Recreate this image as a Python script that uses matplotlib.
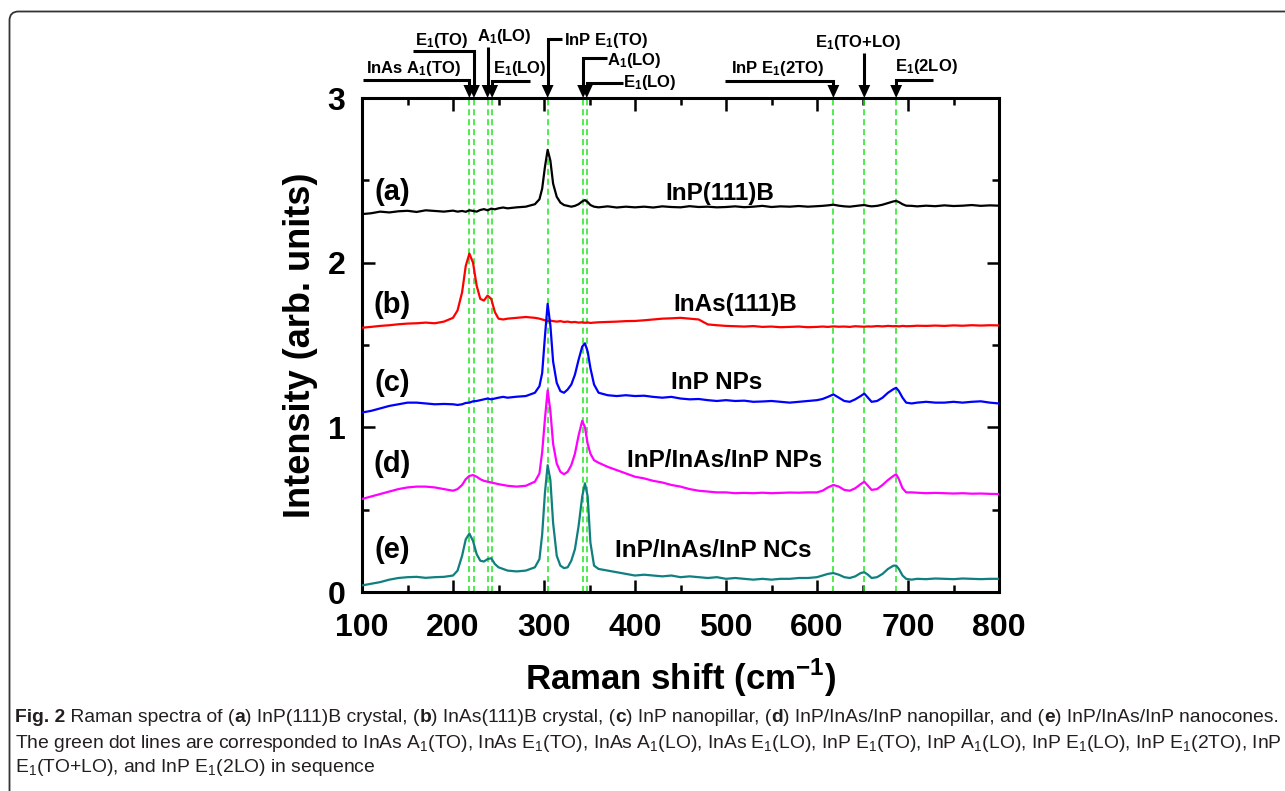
import matplotlib
matplotlib.use("Agg")
import matplotlib.pyplot as plt
import matplotlib.transforms as mtransforms
from matplotlib.patches import FancyBboxPatch, Polygon
from matplotlib.ticker import MultipleLocator

# Raman shift grid (cm-1) shared by all spectra
shift = [100, 110, 120, 130, 140, 150, 160, 170, 180, 190,
         200, 205, 210, 214, 218, 222, 226, 230, 234, 238,
         242, 246, 250, 255, 260, 270, 280, 290, 295, 298,
         301, 304, 307, 310, 314, 318, 322, 326, 330, 334,
         338, 342, 345, 348, 351, 355, 360, 370, 380, 390,
         400, 410, 420, 430, 440, 450, 460, 470, 480, 490,
         500, 510, 520, 530, 540, 550, 560, 570, 580, 590,
         600, 606, 612, 618, 624, 630, 636, 642, 648, 652,
         656, 660, 666, 672, 678, 684, 687, 690, 694, 698,
         704, 710, 720, 730, 740, 750, 760, 770, 780, 790,
         800]

inp_111b = [2.295, 2.300, 2.310, 2.305, 2.312, 2.315, 2.308, 2.318, 2.314, 2.310,
            2.316, 2.310, 2.314, 2.309, 2.318, 2.314, 2.310, 2.320, 2.325, 2.318,
            2.328, 2.324, 2.330, 2.335, 2.330, 2.336, 2.340, 2.355, 2.385, 2.450,
            2.580, 2.685, 2.620, 2.480, 2.400, 2.365, 2.350, 2.345, 2.340, 2.345,
            2.355, 2.372, 2.380, 2.368, 2.350, 2.340, 2.336, 2.342, 2.335, 2.340,
            2.336, 2.340, 2.335, 2.342, 2.338, 2.336, 2.343, 2.338, 2.340, 2.336,
            2.338, 2.342, 2.337, 2.340, 2.345, 2.338, 2.342, 2.340, 2.344, 2.340,
            2.343, 2.345, 2.348, 2.352, 2.346, 2.342, 2.340, 2.344, 2.348, 2.350,
            2.345, 2.342, 2.345, 2.352, 2.362, 2.372, 2.375, 2.368, 2.355, 2.346,
            2.345, 2.342, 2.346, 2.343, 2.348, 2.344, 2.346, 2.350, 2.345, 2.348,
            2.346]

inas_111b = [1.605, 1.610, 1.616, 1.620, 1.626, 1.630, 1.632, 1.636, 1.632, 1.642,
             1.665, 1.710, 1.820, 1.980, 2.055, 2.000, 1.860, 1.780, 1.770, 1.800,
             1.780, 1.700, 1.660, 1.655, 1.660, 1.665, 1.670, 1.665, 1.660, 1.655,
             1.650, 1.645, 1.648, 1.645, 1.642, 1.645, 1.640, 1.642, 1.638, 1.640,
             1.636, 1.638, 1.635, 1.637, 1.634, 1.636, 1.638, 1.640, 1.642, 1.645,
             1.646, 1.650, 1.655, 1.660, 1.662, 1.665, 1.660, 1.655, 1.625, 1.620,
             1.616, 1.614, 1.612, 1.615, 1.610, 1.612, 1.608, 1.610, 1.612, 1.608,
             1.610, 1.612, 1.610, 1.613, 1.611, 1.612, 1.610, 1.614, 1.612, 1.611,
             1.613, 1.612, 1.615, 1.613, 1.616, 1.614, 1.615, 1.613, 1.616, 1.614,
             1.615, 1.617, 1.616, 1.618, 1.616, 1.619, 1.617, 1.620, 1.618, 1.620,
             1.619]

inp_nps = [1.090, 1.100, 1.115, 1.130, 1.140, 1.150, 1.150, 1.145, 1.140, 1.142,
           1.140, 1.136, 1.140, 1.148, 1.150, 1.158, 1.160, 1.165, 1.170, 1.175,
           1.170, 1.175, 1.180, 1.185, 1.180, 1.186, 1.190, 1.210, 1.250, 1.330,
           1.550, 1.750, 1.620, 1.400, 1.270, 1.220, 1.210, 1.230, 1.260, 1.320,
           1.410, 1.490, 1.510, 1.460, 1.360, 1.260, 1.210, 1.195, 1.190, 1.195,
           1.190, 1.192, 1.185, 1.180, 1.185, 1.175, 1.170, 1.172, 1.165, 1.160,
           1.165, 1.160, 1.162, 1.155, 1.157, 1.160, 1.155, 1.150, 1.155, 1.160,
           1.165, 1.172, 1.185, 1.200, 1.180, 1.160, 1.155, 1.170, 1.190, 1.205,
           1.180, 1.155, 1.160, 1.180, 1.210, 1.232, 1.240, 1.220, 1.180, 1.150,
           1.145, 1.150, 1.155, 1.150, 1.150, 1.155, 1.150, 1.155, 1.158, 1.150,
           1.145]

inp_inas_nps = [0.565, 0.580, 0.595, 0.610, 0.625, 0.635, 0.640, 0.640, 0.635, 0.625,
                0.615, 0.625, 0.650, 0.685, 0.705, 0.710, 0.700, 0.685, 0.675, 0.670,
                0.665, 0.660, 0.655, 0.650, 0.645, 0.640, 0.645, 0.670, 0.720, 0.850,
                1.050, 1.225, 1.100, 0.900, 0.780, 0.730, 0.715, 0.730, 0.770, 0.840,
                0.950, 1.040, 1.000, 0.900, 0.840, 0.800, 0.785, 0.760, 0.740, 0.720,
                0.700, 0.690, 0.675, 0.665, 0.650, 0.640, 0.625, 0.615, 0.610, 0.605,
                0.605, 0.600, 0.602, 0.600, 0.603, 0.600, 0.602, 0.604, 0.603, 0.605,
                0.605, 0.615, 0.635, 0.650, 0.640, 0.620, 0.615, 0.630, 0.655, 0.670,
                0.645, 0.620, 0.625, 0.650, 0.680, 0.705, 0.715, 0.685, 0.630, 0.605,
                0.605, 0.603, 0.600, 0.602, 0.600, 0.598, 0.600, 0.597, 0.598, 0.596,
                0.595]

inp_inas_ncs = [0.040, 0.050, 0.060, 0.075, 0.085, 0.090, 0.092, 0.086, 0.090, 0.092,
                0.100, 0.130, 0.220, 0.320, 0.355, 0.310, 0.230, 0.190, 0.185, 0.200,
                0.205, 0.170, 0.150, 0.140, 0.130, 0.125, 0.130, 0.150, 0.200, 0.350,
                0.600, 0.770, 0.680, 0.420, 0.220, 0.160, 0.145, 0.150, 0.190, 0.260,
                0.400, 0.580, 0.660, 0.580, 0.300, 0.160, 0.140, 0.130, 0.120, 0.110,
                0.100, 0.105, 0.100, 0.095, 0.100, 0.090, 0.095, 0.090, 0.085, 0.090,
                0.080, 0.085, 0.080, 0.075, 0.080, 0.075, 0.080, 0.080, 0.085, 0.085,
                0.090, 0.100, 0.110, 0.115, 0.105, 0.090, 0.085, 0.095, 0.115, 0.120,
                0.105, 0.085, 0.090, 0.110, 0.140, 0.160, 0.160, 0.140, 0.100, 0.080,
                0.075, 0.080, 0.078, 0.082, 0.080, 0.078, 0.082, 0.080, 0.078, 0.080,
                0.080]

spectra = [inp_111b, inas_111b, inp_nps, inp_inas_nps, inp_inas_ncs]
colors = ["black", "#ff0000", "#0000ff", "#ff00ff", "#107f7f"]
letters = ["(a)", "(b)", "(c)", "(d)", "(e)"]
letter_y = [2.43, 1.745, 1.267, 0.78, 0.255]
names = ["InP(111)B", "InAs(111)B", "InP NPs", "InP/InAs/InP NPs", "InP/InAs/InP NCs"]
name_x = [493, 510, 490, 498, 486]
name_y = [2.42, 1.745, 1.27, 0.80, 0.255]

# phonon modes marked by the green dashed lines
modes = [218, 223, 238, 243, 304, 343, 347, 618, 652, 687]

SUB = r"$\mathregular{_1}$"
# label, text x (cm-1), text centre y (px from top), elbow y (px), tail x (cm-1 or None)
mode_labels = [
    ("InAs A" + SUB + "(TO)", 104, 68, 80, 101),
    ("E" + SUB + "(TO)", 158, 40, 51, 156),
    ("A" + SUB + "(LO)", 226, 37, 47, None),
    ("E" + SUB + "(LO)", 244, 68, 81, 285),
    ("InP E" + SUB + "(TO)", 322, 40, 39, 320),
    ("A" + SUB + "(LO)", 369, 60, 58, 369),
    ("E" + SUB + "(LO)", 387, 82, 83, 387),
    ("InP E" + SUB + "(2TO)", 506, 68, 81, 499),
    ("E" + SUB + "(TO+LO)", 645, 43, 53, None),
    ("E" + SUB + "(2LO)", 686, 67, 80, 728),
]

W, H = 1285, 791
fig = plt.figure(figsize=(W / 100, H / 100), dpi=100)
ax = fig.add_axes([362 / W, 1 - 592 / H, 637 / W, 494 / H])

for y, c in zip(spectra, colors):
    ax.plot(shift, y, color=c, lw=1.6, zorder=3)

for m in modes:
    ax.axvline(m, color="#22e622", lw=1.1, ls=(0, (4, 2.5)), zorder=2)

for lab, ly, nm, nx, ny in zip(letters, letter_y, names, name_x, name_y):
    ax.text(133, ly, lab, fontsize=21, fontweight="bold", ha="center", va="center",
            family="Liberation Sans")
    ax.text(nx, ny, nm, fontsize=17.5, fontweight="bold", ha="center", va="center",
            family="Liberation Sans")

ax.set_xlim(100, 800)
ax.set_ylim(0, 3)
ax.xaxis.set_major_locator(MultipleLocator(100))
ax.xaxis.set_minor_locator(MultipleLocator(50))
ax.yaxis.set_major_locator(MultipleLocator(1))
ax.yaxis.set_minor_locator(MultipleLocator(0.5))
ax.tick_params(which="both", direction="in", top=True, right=True, width=1.8)
ax.tick_params(which="major", length=9, pad=12)
ax.tick_params(axis="x", which="major", pad=15)
ax.tick_params(which="minor", length=5)
for s in ax.spines.values():
    s.set_linewidth(2.2)
for t in ax.get_xticklabels() + ax.get_yticklabels():
    t.set_fontfamily("Liberation Sans")
    t.set_fontweight("bold")
    t.set_fontsize(23)

ax.set_xlabel(r"Raman shift (cm$^{\mathregular{-1}}$)", fontsize=25, fontweight="bold",
              family="Liberation Sans", labelpad=10)
ax.set_ylabel("Intensity (arb. units)", fontsize=26, fontweight="bold",
              family="Liberation Sans", labelpad=7)

# arrows above the frame
tr = mtransforms.blended_transform_factory(ax.transData, fig.transFigure)


def fy(py):
    return 1 - py / H


for (lab, tx, ty, ey, tail), m in zip(mode_labels, modes):
    fig.text(tx, fy(ty), lab, transform=tr, fontsize=12, fontweight="bold",
             ha="left" if lab[0] != "E" or tail is not None else "center",
             va="center", family="Liberation Sans")
    xs, ys = [m, m], [fy(ey), fy(86)]
    if tail is not None:
        xs, ys = [tail, m, m], [fy(ey), fy(ey), fy(86)]
    fig.add_artist(plt.Line2D(xs, ys, transform=tr, color="black", lw=2.2,
                              solid_joinstyle="miter", solid_capstyle="butt"))
    fig.add_artist(Polygon([[m - 6.5, fy(85)], [m + 6.5, fy(85)], [m, fy(98)]],
                           closed=True, transform=tr, facecolor="black", edgecolor="none"))

# frame around the figure
fig.add_artist(FancyBboxPatch((9.5, -20), 1300, 791 - 11 + 20 - 0.5,
                              boxstyle="round,pad=0,rounding_size=9",
                              transform=mtransforms.IdentityTransform(),
                              facecolor="none", edgecolor="#333333", lw=1.3))

# caption
cap_font = "Liberation Sans"
cap_size = 13.9
renderer = fig.canvas.get_renderer()


def rich_line(x_px, y_px, parts):
    x = x_px
    for txt, bold in parts:
        t = fig.text(x / W, fy(y_px), txt, fontsize=cap_size, color="#231f20",
                     fontweight="bold" if bold else "normal", family=cap_font,
                     va="center", ha="left")
        x = t.get_window_extent(renderer).x1


rich_line(15, 718, [("Fig. 2", True), (" Raman spectra of (", False), ("a", True),
                    (") InP(111)B crystal, (", False), ("b", True),
                    (") InAs(111)B crystal, (", False), ("c", True),
                    (") InP nanopillar, (", False), ("d", True),
                    (") InP/InAs/InP nanopillar, and (", False), ("e", True),
                    (") InP/InAs/InP nanocones.", False)])
rich_line(15, 743, [("The green dot lines are corresponded to InAs A" + SUB + "(TO), InAs E" + SUB
                     + "(TO), InAs A" + SUB + "(LO), InAs E" + SUB + "(LO), InP E" + SUB
                     + "(TO), InP A" + SUB + "(LO), InP E" + SUB + "(LO), InP E" + SUB
                     + "(2TO), InP", False)])
rich_line(15, 768, [("E" + SUB + "(TO+LO), and InP E" + SUB + "(2LO) in sequence", False)])

fig.savefig("out.png", dpi=100)
